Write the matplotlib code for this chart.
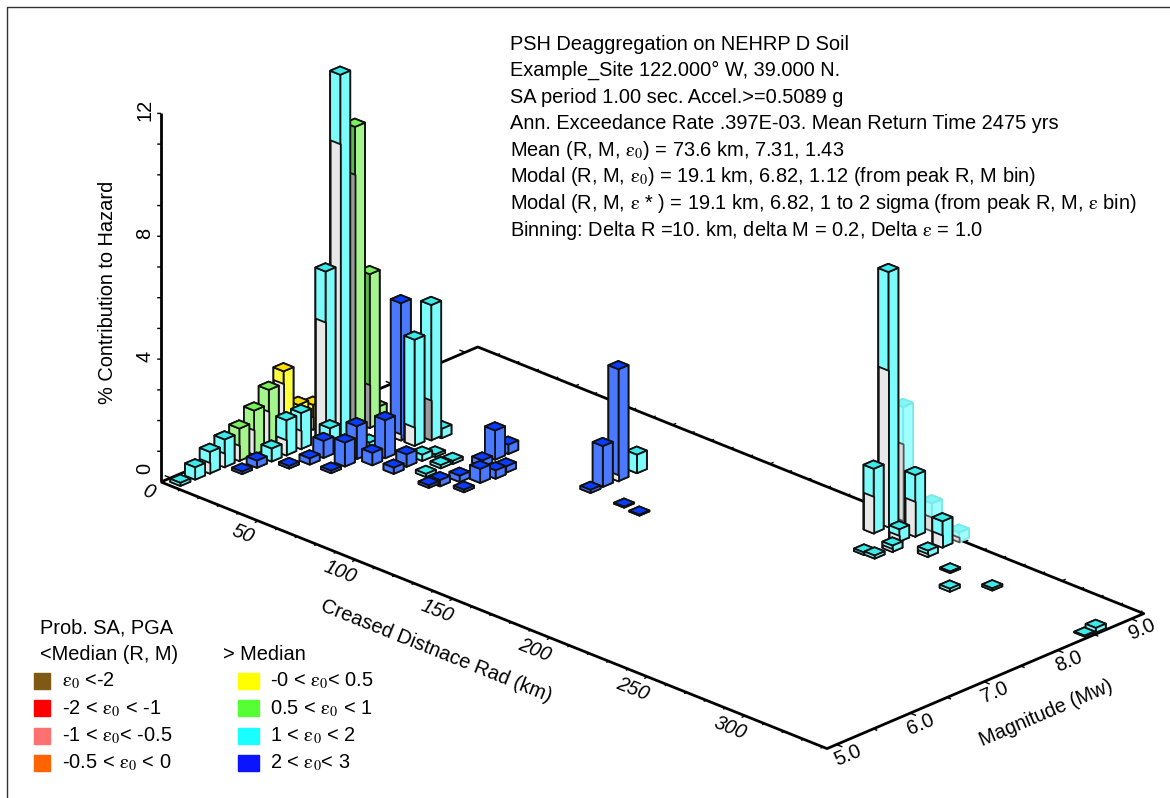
import numpy as np
import matplotlib
matplotlib.use("Agg")
import matplotlib.pyplot as plt
from matplotlib.patches import Rectangle
from mpl_toolkits.mplot3d import proj3d
from mpl_toolkits.mplot3d.art3d import Poly3DCollection

plt.rcParams['font.family'] = ['Liberation Sans', 'DejaVu Sans']
plt.rcParams['mathtext.fontset'] = 'stix'

# axis ranges
r_lim = (0, 342)
m_lim = (4.87, 9.17)
z_lim = (0, 14)
r_ticks = [50, 100, 150, 200, 250, 300]
m_ticks = [5.0, 6.0, 7.0, 8.0, 9.0]
z_ticks = [0, 4, 8, 12]

# bars: distance, magnitude, total height, height of the grey lower part, colour key
bar_r = [5, 5, 5, 5, 5, 5, 5, 5, 5, 5,
         14, 14, 14, 14, 14,
         19, 19, 19, 19, 15,
         26, 37, 23, 25.5, 36.5, 35, 43, 42, 54, 53,
         35, 42, 43, 32, 25, 53.5, 54.5, 44.5, 63, 63.5, 64.5, 74, 72, 76.5, 84,
         72, 72, 73, 82.5, 84, 83,
         118, 117.5, 118, 118, 136, 145,
         218, 218, 218, 231, 232, 245, 246, 230, 234.5, 247, 229, 234,
         263, 274.5, 285, 338, 338.5]
bar_m = [5.0, 5.2, 5.4, 5.6, 5.8, 6.0, 6.2, 6.4, 6.6, 6.8,
         5.6, 5.8, 6.0, 6.2, 6.4,
         6.6, 6.8, 7.0, 7.2, 7.4,
         6.2, 6.2, 6.0, 6.4, 6.4, 6.6, 6.6, 6.8, 6.6, 6.8,
         7.2, 7.2, 7.4, 6.85, 6.5, 7.0, 7.15, 7.5, 7.0, 7.15, 6.76, 6.7, 6.6, 6.9, 6.76,
         7.5, 7.68, 7.3, 7.02, 7.19, 7.36,
         7.58, 7.76, 7.96, 8.21, 7.56, 7.53,
         8.78, 8.98, 9.18, 9.0, 9.2, 9.0, 9.2, 8.81, 8.6, 8.75, 8.36, 8.37,
         8.63, 8.32, 8.62, 8.47, 8.61]
bar_h = [0.1, 0.4, 0.7, 0.9, 1.05, 1.43, 1.9, 2.3, 1.0, 0.8,
         0.08, 0.23, 0.42, 1.14, 1.17,
         5.7, 11.9, 10.0, 5.0, 0.35,
         0.2, 0.08, 0.08, 0.55, 0.78, 1.07, 0.4, 1.24, 0.2, 0.4,
         4.46, 3.45, 4.4, 0.2, 0.85, 0.2, 0.08, 0.3, 0.1, 0.1, 0.1, 0.2, 0.08, 0.2, 0.08,
         0.95, 0.3, 0.2, 0.45, 0.27, 0.2,
         0.1, 1.33, 3.64, 0.6, 0.03, 0.03,
         2.1, 8.3, 3.7, 2.0, 0.9, 0.85, 0.3, 0.4, 0.2, 0.2, 0.08, 0.1,
         0.05, 0.1, 0.07, 0.03, 0.15]
bar_grey = [0, 0, 0.35, 0.45, 0.5, 0.8, 1.2, 1.9, 0.5, 0.4,
            0, 0, 0, 0.5, 0.6,
            4.05, 9.65, 8.45, 1.4, 0,
            0, 0, 0, 0, 0, 0, 0, 0, 0, 0,
            0.2, 0.6, 1.3, 0, 0.4, 0, 0, 0, 0, 0, 0, 0, 0, 0, 0,
            0, 0, 0, 0, 0, 0,
            0, 0, 0.2, 0, 0, 0,
            1.2, 5.1, 2.5, 1.14, 0.45, 0.4, 0.15, 0.2, 0.1, 0.1, 0, 0,
            0, 0, 0, 0, 0]
bar_c = list("cccc") + list("ggg") + list("yyy") + \
    list("bbccc") + list("ccggg") + \
    list("bbbbbbbbbb") + list("bcc") + list("cc") + list("cccccc") + list("bbbb") + \
    list("bbbbbb") + list("bbbcbb") + list("c" * 17)
# bars whose left face sits in the shadow of the tall ones
shadow_bars = [(19, 7.0), (19, 7.2), (43, 7.4)]

top_col = {'c': '#3ceaea', 'g': '#7cf05c', 'y': '#ffdc00', 'b': '#0a3cff'}
side_col = {'c': '#7cfbfb', 'g': '#a4f68c', 'y': '#ffff3c', 'b': '#4a78ff'}
grey_col = '#e8e8e8'

eps = r"\mathrm{\varepsilon}"
legend_left = [rf"${eps}_0$ <-2", rf"-2 < ${eps}_0$ < -1",
               rf"-1 < ${eps}_0$< -0.5", rf"-0.5 < ${eps}_0$ < 0"]
legend_left_c = ['#7f5a14', '#ff0000', '#ff7070', '#ff6400']
legend_right = [rf"-0 < ${eps}_0$< 0.5", rf"0.5 < ${eps}_0$ < 1",
                rf"1 < ${eps}_0$ < 2", rf"2 < ${eps}_0$< 3"]
legend_right_c = ['#ffff00', '#55ff33', '#19ffff', '#0a14ff']

header = ["PSH Deaggregation on NEHRP D Soil",
          "Example_Site 122.000\u00b0 W, 39.000 N.",
          "SA period 1.00 sec. Accel.>=0.5089 g",
          "Ann. Exceedance Rate .397E-03. Mean Return Time 2475 yrs",
          rf"Mean (R, M, ${eps}_0$) = 73.6 km, 7.31, 1.43",
          rf"Modal (R, M, ${eps}_0$) = 19.1 km, 6.82, 1.12 (from peak R, M bin)",
          rf"Modal (R, M, ${eps}$ * ) = 19.1 km, 6.82, 1 to 2 sigma (from peak R, M, ${eps}$ bin)",
          rf"Binning: Delta R =10. km, delta M = 0.2, Delta ${eps}$ = 1.0"]

fig = plt.figure(figsize=(11.7, 7.98), dpi=100)
ax = fig.add_axes([0, 0, 1, 1], projection='3d', computed_zorder=False)
ax.set_proj_type('ortho')
ax.view_init(elev=24.4, azim=-45.9)
ax.set_xlim(*r_lim, view_margin=0)
ax.set_ylim(*m_lim, view_margin=0)
ax.set_zlim(*z_lim, view_margin=0)
ax.set_axis_off()
ax.patch.set_alpha(0)


def to_px(r, m, z):
    x, y, _ = proj3d.proj_transform(r, m, z, ax.get_proj())
    return ax.transData.transform((x, y))


# line the floor up with the picture: scale first, then shift
zoom = 1.0
ax.set_box_aspect((927, 455, 472), zoom=zoom)
fig.canvas.draw()
span = to_px(r_lim[1], m_lim[0], 0)[0] - to_px(r_lim[0], m_lim[0], 0)[0]
zoom = zoom * 666 / span
ax.set_box_aspect((927, 455, 472), zoom=zoom)
fig.canvas.draw()
px = to_px(r_lim[0], m_lim[0], 0)
ax.set_position([(161 - px[0]) / 1170, ((798 - 482) - px[1]) / 798, 1, 1])
fig.canvas.draw()


def line3(rs, ms, zs, lw=2.0, zorder=2):
    ax.plot(rs, ms, zs, color='k', lw=lw, zorder=zorder, solid_capstyle='butt', clip_on=False)


# floor and height axis
r0, r1 = r_lim
m0, m1 = m_lim
line3([r0, r1, r1, r0, r0], [m0, m0, m1, m1, m0], [0, 0, 0, 0, 0])
line3([r0, r0], [m0, m0], [0, 12.0])

# ticks on all four floor edges and the height axis
for r in np.arange(10, r1, 10):
    ln = 0.05 if r % 50 == 0 else 0.035
    line3([r, r], [m0, m0 - ln], [0, 0], lw=1)
    line3([r, r], [m1, m1 + ln], [0, 0], lw=1)
for m in np.arange(5.0, 9.01, 0.5):
    ln = 3 if m % 1 == 0 else 2
    line3([r1, r1 + ln], [m, m], [0, 0], lw=1)
    line3([r0, r0 - ln], [m, m], [0, 0], lw=1)
for z in np.arange(1, 13):
    line3([r0, r0 - 1.0], [m0, m0 - 0.025], [z, z], lw=1)

# bars are drawn back to front
dr, dm = 5.2, 0.135
order = sorted(range(len(bar_r)), key=lambda i: bar_r[i] * 0.781 - bar_m[i] * 31.4)
for n, i in enumerate(order):
    r, m, h, g, c = bar_r[i], bar_m[i], bar_h[i], bar_grey[i], bar_c[i]
    faded = m > m1
    top, side, edge, left_up, left_low = top_col[c], side_col[c], '#111111', side_col[c], grey_col
    if faded:
        top, side, edge, left_up, left_low = '#80f8f8', '#a0ffff', '#7ce8e8', '#a0ffff', '#dddddd'
    if (r, m) in shadow_bars:
        left_low = '#9a9a9a'
        if c == 'g':
            left_up = '#5cb848'
    # face order of bar3d: -z, +z, -y, +y, -x, +x
    cols = [side, top, left_up, side, side, side]
    bars = ax.bar3d(r - dr / 2, m - dm / 2, 0, dr, dm, h, color=cols, edgecolor=edge,
                    linewidth=1.3, shade=False, zorder=10 + 2 * n)
    bars.set_clip_on(False)
    if g > 0:
        x0, x1, y0 = r - dr / 2, r + dr / 2, m - dm / 2
        face = [(x0, y0, 0), (x1, y0, 0), (x1, y0, g), (x0, y0, g)]
        low_edge = '#555555' if faded else edge
        low = ax.add_collection3d(Poly3DCollection([face], facecolor=left_low, edgecolor=low_edge,
                                                   linewidth=1.3, zorder=11 + 2 * n))
        low.set_clip_on(False)
ax.set_xlim(*r_lim, view_margin=0)
ax.set_ylim(*m_lim, view_margin=0)
ax.set_zlim(*z_lim, view_margin=0)
fig.canvas.draw()

# flat overlay in picture pixels for the frame, labels, header and legend
ov = fig.add_axes([0, 0, 1, 1], zorder=5)
ov.set_xlim(0, 1170)
ov.set_ylim(798, 0)
ov.axis('off')
ov.plot([7, 7, 1170], [798, 7, 7], color='#333333', lw=1)

fs = 14.4
rot_r, rot_m = -21.8, 23.1


def label3(r, m, z, s, rot, **kw):
    x, y = to_px(r, m, z)
    ov.text(x, 798 - y, s, rotation=rot, fontsize=fs, ha='center', va='center', **kw)


# tick labels, placed next to their ticks
for r in r_ticks:
    label3(r + 3.7, m0 - 0.31, 0, str(r), rot_r, style='italic')
for m in m_ticks:
    label3(r1 + 9.7, m - 0.11, 0, f"{m:.1f}", rot_m)
for z in z_ticks:
    label3(r0 - 4.2, m0 - 0.105, z + 0.1 if z else 0.45, str(z), 90)
label3(r0 + 2.75, m0 - 0.25, 0, "0", rot_r, style='italic')
label3(r0 - 14, m0 - 0.36, 6.2, "% Contribution to Hazard", 90)
label3(178, m0 - 0.97, 0, "Creased Distnace Rad (km)", rot_r)
label3(r1 + 36, 6.89, 0, "Magnitude (Mw)", rot_m)

for k, line in enumerate(header):
    ov.text(510, 44 + k * 26.6, line, fontsize=fs, va='center', ha='left')

ov.text(40, 628, "Prob. SA, PGA", fontsize=fs, va='center')
ov.text(40, 655, "<Median (R, M)", fontsize=fs, va='center')
ov.text(223, 655, "> Median", fontsize=fs, va='center')
for k in range(4):
    y = 681 + k * 27.3
    ov.add_patch(Rectangle((34, y - 8), 16, 16, color=legend_left_c[k]))
    ov.text(62, y, legend_left[k], fontsize=fs, va='center')
    ov.add_patch(Rectangle((238, y - 8), 21, 16, color=legend_right_c[k]))
    ov.text(270, y, legend_right[k], fontsize=fs, va='center')

fig.savefig("out.png", dpi=100)
